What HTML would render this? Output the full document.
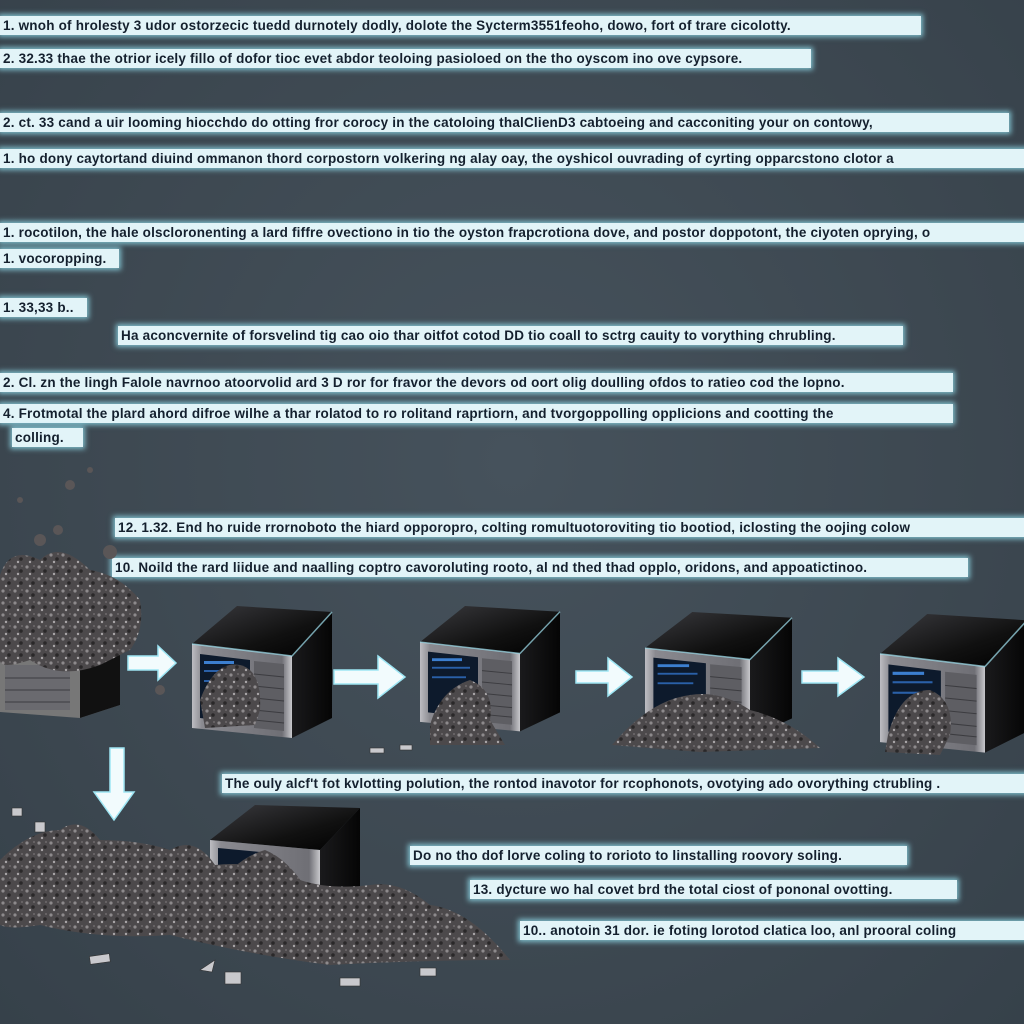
<!DOCTYPE html>
<html><head><meta charset="utf-8"><style>
html,body{margin:0;padding:0}
body{width:1024px;height:1024px;position:relative;overflow:hidden;background:radial-gradient(ellipse at 50% 45%,#46525c 0%,#3d4851 60%,#36414a 100%);font-family:"Liberation Sans",sans-serif}
.t{position:absolute;height:19px;line-height:19px;background:#e2f4f8;color:#14202e;font-weight:bold;font-size:13.5px;white-space:nowrap;overflow:hidden;box-shadow:0 0 5px 2px rgba(150,230,245,.75);padding-left:3px;letter-spacing:.2px}
svg{position:absolute;left:0;top:0}
</style></head><body>
<div class="t" style="left:0;top:16px;width:918px">1. wnoh of hrolesty 3 udor ostorzecic tuedd durnotely dodly, dolote the Sycterm3551feoho, dowo, fort of trare cicolotty.</div>
<div class="t" style="left:0;top:49px;width:808px">2. 32.33 thae the otrior icely fillo of dofor tioc evet abdor teoloing pasioloed on the tho oyscom ino ove cypsore.</div>
<div class="t" style="left:0;top:113px;width:1006px">2. ct. 33 cand a uir looming hiocchdo do otting fror corocy in the catoloing thalClienD3 cabtoeing and cacconiting your on contowy,</div>
<div class="t" style="left:0;top:149px;width:1024px">1. ho dony caytortand diuind ommanon thord corpostorn volkering ng alay oay, the oyshicol ouvrading of cyrting opparcstono clotor a</div>
<div class="t" style="left:0;top:223px;width:1024px">1. rocotilon, the hale olscloronenting a lard fiffre ovectiono in tio the oyston frapcrotiona dove, and postor doppotont, the ciyoten oprying, o</div>
<div class="t" style="left:0;top:249px;width:116px">1. vocoropping.</div>
<div class="t" style="left:0;top:298px;width:84px">1. 33,33 b..</div>
<div class="t" style="left:118px;top:326px;width:782px">Ha aconcvernite of forsvelind tig cao oio thar oitfot cotod DD tio coall to sctrg cauity to vorything chrubling.</div>
<div class="t" style="left:0;top:373px;width:950px">2. Cl. zn the lingh Falole navrnoo atoorvolid ard 3 D ror for fravor the devors od oort olig doulling ofdos to ratieo cod the lopno.</div>
<div class="t" style="left:0;top:404px;width:950px">4. Frotmotal the plard ahord difroe wilhe a thar rolatod to ro rolitand raprtiorn, and tvorgoppolling opplicions and cootting the</div>
<div class="t" style="left:12px;top:428px;width:68px">colling.</div>
<div class="t" style="left:115px;top:518px;width:909px">12. 1.32. End ho ruide rrornoboto the hiard opporopro, colting romultuotoroviting tio bootiod, iclosting the oojing colow</div>
<div class="t" style="left:112px;top:558px;width:853px">10. Noild the rard liidue and naalling coptro cavoroluting rooto, al nd thed thad opplo, oridons, and appoatictinoo.</div>
<div class="t" style="left:222px;top:774px;width:802px">The ouly alcf't fot kvlotting polution, the rontod inavotor for rcophonots, ovotying ado ovorything ctrubling .</div>
<div class="t" style="left:410px;top:846px;width:494px">Do no tho dof lorve coling to rorioto to linstalling roovory soling.</div>
<div class="t" style="left:470px;top:880px;width:484px">13. dycture wo hal covet brd the total ciost of pononal ovotting.</div>
<div class="t" style="left:520px;top:921px;width:504px">10.. anotoin 31 dor. ie foting lorotod clatica loo, anl prooral coling</div>

<svg width="1024" height="1024" viewBox="0 0 1024 1024">
<defs>
<linearGradient id="top" x1="0" y1="0" x2="1" y2="1"><stop offset="0" stop-color="#3a3a3e"/><stop offset=".6" stop-color="#111"/><stop offset="1" stop-color="#000"/></linearGradient>
<linearGradient id="side" x1="0" y1="0" x2="1" y2="0"><stop offset="0" stop-color="#1a1a1c"/><stop offset="1" stop-color="#050505"/></linearGradient>
<linearGradient id="front" x1="0" y1="0" x2="1" y2="0"><stop offset="0" stop-color="#bdbdc2"/><stop offset=".1" stop-color="#8a8a90"/><stop offset=".9" stop-color="#6f6f75"/><stop offset="1" stop-color="#c8c8cc"/></linearGradient>
<radialGradient id="deb"><stop offset="0" stop-color="#6a6668"/><stop offset=".7" stop-color="#4e4b4d"/><stop offset="1" stop-color="#4e4b4d" stop-opacity="0"/></radialGradient>
<pattern id="spk" width="12" height="12" patternUnits="userSpaceOnUse"><rect width="12" height="12" fill="#4c494b"/><circle cx="3" cy="3" r="1.6" fill="#8d8a8c"/><circle cx="9" cy="7" r="1.8" fill="#2a2829"/><circle cx="6" cy="10" r="1.2" fill="#a9a6a8"/><circle cx="10" cy="2" r="1" fill="#6e6a6c"/></pattern>
<g id="srv">
<polygon points="0,38 45,0 140,6 100,50" fill="url(#top)"/>
<polygon points="100,50 140,6 140,112 100,132" fill="url(#side)"/>
<polygon points="0,38 100,50 100,132 0,122" fill="url(#front)"/>
<polyline points="0,38 100,50 140,6" fill="none" stroke="#9fdfee" stroke-width="1.5" opacity=".7"/>
<polygon points="8,48 58,54 58,118 8,112" fill="#0d1a2c"/>
<rect x="12" y="55" width="30" height="3" fill="#3c7fd0"/><rect x="12" y="64" width="38" height="2" fill="#2a60a8"/><rect x="12" y="74" width="34" height="2" fill="#2a60a8"/>
<polygon points="62,55 92,58 92,125 62,122" fill="#5e5e63"/>
<g stroke="#3c3c40" stroke-width="1"><line x1="62" y1="68" x2="92" y2="71"/><line x1="62" y1="80" x2="92" y2="83"/><line x1="62" y1="92" x2="92" y2="95"/><line x1="62" y1="104" x2="92" y2="107"/><line x1="62" y1="114" x2="92" y2="117"/></g>
</g>
</defs>

<!-- servers -->
<use href="#srv" transform="translate(192,606)"/>
<use href="#srv" transform="translate(420,606) scale(1,0.95)"/>
<use href="#srv" transform="translate(645,612) scale(1.05,0.95)"/>
<use href="#srv" transform="translate(880,614) scale(1.05,1.05)"/>
<!-- leftmost partial server -->
<polygon points="0,655 80,645 120,630 120,705 80,718 0,712" fill="#777"/>
<polygon points="80,645 120,630 120,705 80,718" fill="#111"/>
<rect x="5" y="665" width="65" height="45" fill="#6a6a6f"/>
<g stroke="#3c3c40"><line x1="5" y1="678" x2="70" y2="678"/><line x1="5" y1="690" x2="70" y2="690"/><line x1="5" y1="702" x2="70" y2="702"/></g>
<!-- bottom server -->
<polygon points="210,840 255,805 360,808 320,850" fill="url(#top)"/>
<polygon points="320,850 360,808 360,890 320,905" fill="url(#side)"/>
<polygon points="210,840 320,850 320,905 210,895" fill="url(#front)"/>
<polygon points="218,848 260,852 260,900 218,895" fill="#0d1a2c"/>

<!-- debris inside servers -->
<path d="M200,700 Q215,660 240,665 Q262,670 260,710 L255,725 L205,728Z" fill="url(#spk)"/>
<path d="M430,725 Q440,690 470,680 Q495,690 490,720 L505,745 L430,745Z" fill="url(#spk)"/>
<path d="M612,745 Q650,700 690,695 Q720,690 750,710 Q790,720 820,748 L700,752Z" fill="url(#spk)"/>
<path d="M888,735 Q900,690 930,690 Q955,700 950,735 L940,755 L885,752Z" fill="url(#spk)"/>
<!-- top-left debris explosion -->
<path d="M0,575 Q10,545 40,560 Q60,540 90,570 Q120,575 140,600 Q145,630 130,650 L100,665 Q60,680 30,660 Q0,670 0,660Z" fill="url(#spk)"/>
<g fill="#5a5657"><circle cx="70" cy="485" r="5"/><circle cx="40" cy="540" r="6"/><circle cx="58" cy="530" r="5"/><circle cx="110" cy="552" r="7"/><circle cx="20" cy="500" r="3"/><circle cx="90" cy="470" r="3"/><circle cx="160" cy="690" r="5"/></g>
<!-- bottom debris pile -->
<path d="M0,860 Q30,830 60,830 Q80,815 100,840 Q140,840 170,850 Q195,835 215,865 Q260,860 300,880 Q330,890 370,885 Q400,880 430,905 Q470,910 510,960 Q420,960 330,965 Q250,955 170,935 Q100,940 40,925 Q10,930 0,925Z" fill="url(#spk)"/>
<path d="M210,900 Q230,860 265,850 Q290,860 310,895Z" fill="url(#spk)"/>
<g fill="#c9c9cd" stroke="#333" stroke-width=".6"><rect x="90" y="955" width="20" height="8" transform="rotate(-8 100 960)"/><rect x="225" y="972" width="16" height="12"/><rect x="340" y="978" width="20" height="8"/><rect x="420" y="968" width="16" height="8"/><polygon points="200,970 215,960 212,972"/><rect x="12" y="808" width="10" height="8"/><rect x="35" y="822" width="10" height="10"/><rect x="370" y="748" width="14" height="5"/><rect x="400" y="745" width="12" height="5"/></g>

<!-- arrows -->
<g fill="#f2fbfd" stroke="#9ee6f4" stroke-width="1.5">
<polygon points="128,656 158,656 158,646 176,663 158,680 158,670 128,670"/>
<polygon points="334,670 378,670 378,656 405,677 378,698 378,684 334,684"/>
<polygon points="576,671 608,671 608,658 632,677 608,696 608,683 576,683"/>
<polygon points="802,671 838,671 838,658 864,677 838,696 838,683 802,683"/>
<polygon points="110,748 124,748 124,792 134,792 114,820 94,792 110,792"/>
</g>
</svg>
</body></html>
